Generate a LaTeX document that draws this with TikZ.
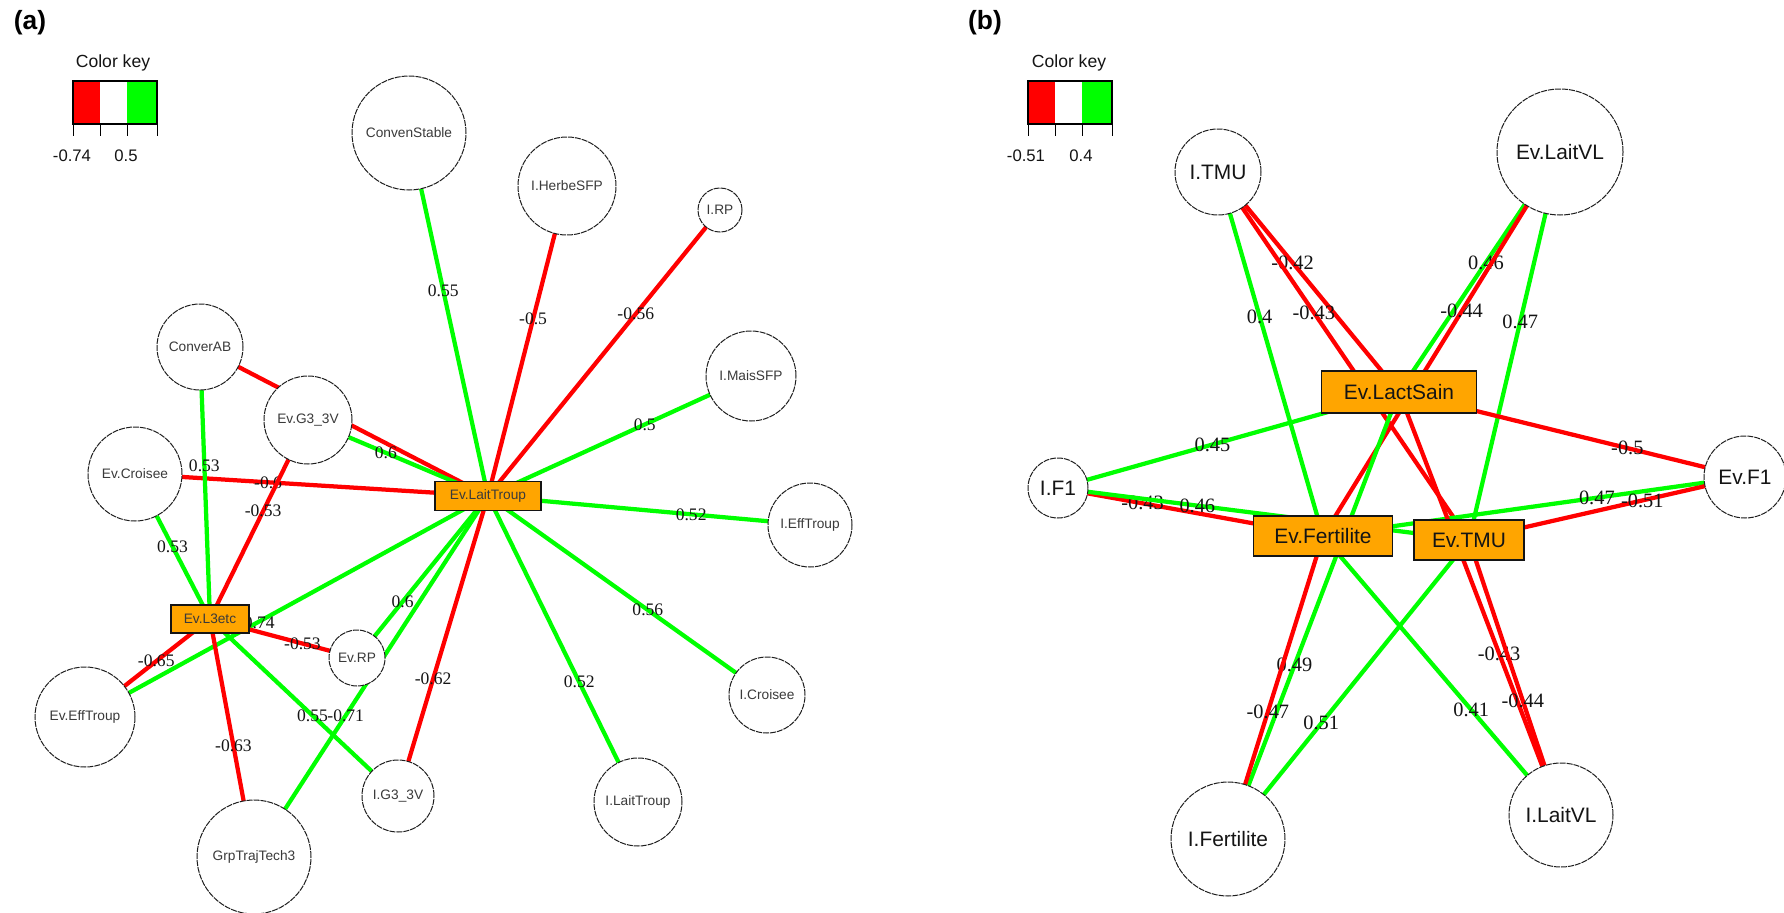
\documentclass[tikz,border=0pt]{standalone}
\usepackage{fontspec}
\setmainfont{Liberation Sans}
\newfontfamily\numfont{Liberation Serif}
\usepackage{xcolor}
\usepackage{tikz}
\usetikzlibrary{backgrounds}
\definecolor{ink}{HTML}{141414}
\definecolor{ink2}{HTML}{3A3A3A}
\definecolor{crim}{HTML}{1E1E1E}
\definecolor{cneg}{HTML}{FF0000}
\definecolor{cpos}{HTML}{00FF00}
\definecolor{cbox}{HTML}{FFA500}

\begin{document}
\begin{tikzpicture}[x=0.2mm, y=-0.2mm,
      vtx/.style={circle, draw=crim, line width=0.2mm, dash pattern=on 1.2mm off 0.2mm,
                  fill=white, inner sep=0pt, minimum size=#1*0.4mm},
      fbox/.style={draw=ink, line width=0.3mm, fill=cbox, inner sep=0pt},
      lbla/.style={font=\fontsize{7.8}{9}\selectfont, text=ink2},
      lblb/.style={font=\fontsize{11.9}{14}\selectfont, text=ink},
      wta/.style={font=\numfont\fontsize{10}{12}\selectfont, text=ink, inner sep=0pt},
      wtb/.style={font=\numfont\fontsize{11.6}{14}\selectfont, text=ink, inner sep=0pt},
      posedge/.style={draw=cpos, line width=0.85mm},
      negedge/.style={draw=cneg, line width=0.85mm},
      keyttl/.style={font=\fontsize{10}{12}\selectfont, text=ink},
      keylbl/.style={font=\fontsize{9.5}{11}\selectfont, text=ink},
      tag/.style={font=\bfseries\fontsize{15}{18}\selectfont, text=black}]
    \useasboundingbox (0,0) rectangle (1784,913);

    % panel (a)
    \node[tag] (taga) at (30,23) {(a)};
    \node[keyttl] (keya) at (113,63) {Color key};
    \fill[cneg] (73,81) rectangle (100,124);
    \fill[cpos] (127,81) rectangle (157,124);
    \draw[line width=0.3mm] (73,81) rectangle (157,124);
    \foreach \x in {73,100,127,157} \draw[line width=0.2mm] (\x,124) -- (\x,136);
    \node[keylbl] (kamin) at (72,156) {-0.74};
    \node[keylbl] (kamax) at (126,156) {0.5};

    \node[vtx=57, lbla] (cs) at (409,133) {ConvenStable};
    \node[vtx=49, lbla] (hs) at (567,186) {I.HerbeSFP};
    \node[vtx=22, lbla] (rp) at (720,210) {I.RP};
    \node[vtx=45, lbla] (ms) at (751,376) {I.MaisSFP};
    \node[vtx=43, lbla] (ca) at (200,347) {ConverAB};
    \node[vtx=44, lbla] (g3) at (308,420) {Ev.G3\_3V};
    \node[vtx=47, lbla] (ec) at (135,474) {Ev.Croisee};
    \node[fbox, lbla, minimum width=106*0.2mm, minimum height=29*0.2mm] (lt) at (488,496) {Ev.LaitTroup};
    \node[vtx=42, lbla] (ie) at (810,525) {I.EffTroup};
    \node[fbox, lbla, minimum width=78*0.2mm, minimum height=28*0.2mm] (l3) at (210,619) {Ev.L3etc};
    \node[vtx=28, lbla] (erp) at (357,658) {Ev.RP};
    \node[vtx=50, lbla] (ee) at (85,717) {Ev.EffTroup};
    \node[vtx=38, lbla] (ic) at (767,695) {I.Croisee};
    \node[vtx=36, lbla] (ig) at (398,796) {I.G3\_3V};
    \node[vtx=44, lbla] (il) at (638,802) {I.LaitTroup};
    \node[vtx=57, lbla] (gt) at (254,857) {GrpTrajTech3};

    % panel (b)
    \node[tag] (tagb) at (985,23) {(b)};
    \node[keyttl] (keyb) at (1069,63) {Color key};
    \fill[cneg] (1028,81) rectangle (1055,124);
    \fill[cpos] (1082,81) rectangle (1112,124);
    \draw[line width=0.3mm] (1028,81) rectangle (1112,124);
    \foreach \x in {1028,1055,1082,1112} \draw[line width=0.2mm] (\x,124) -- (\x,136);
    \node[keylbl] (kbmin) at (1026,156) {-0.51};
    \node[keylbl] (kbmax) at (1081,156) {0.4};

    \node[vtx=43, lblb] (itmu) at (1218,172) {I.TMU};
    \node[vtx=63, lblb] (elvl) at (1560,152) {Ev.LaitVL};
    \node[fbox, lblb, minimum width=155*0.2mm, minimum height=42*0.2mm] (els) at (1399,392) {Ev.LactSain};
    \node[vtx=30, lblb] (if1) at (1058,488) {I.F1};
    \node[vtx=41, lblb] (ef1) at (1745,477) {Ev.F1};
    \node[fbox, lblb, minimum width=139*0.2mm, minimum height=40*0.2mm] (efe) at (1323,536) {Ev.Fertilite};
    \node[fbox, lblb, minimum width=110*0.2mm, minimum height=40*0.2mm] (etmu) at (1469,540) {Ev.TMU};
    \node[vtx=57, lblb] (ife) at (1228,839) {I.Fertilite};
    \node[vtx=52, lblb] (ilvl) at (1561,815) {I.LaitVL};

    \begin{scope}[on background layer]
    \fill[white] (0,0) rectangle (1784,913);
    \draw[posedge] (cs.center) -- node[wta, pos=.434] {0.55} (lt.center);
    \draw[negedge] (hs.center) -- node[wta, pos=.429] {-0.5} (lt.center);
    \draw[negedge] (rp.center) -- node[wta, pos=.363] {-0.56} (lt.center);
    \draw[posedge] (ms.center) -- node[wta, pos=.404] {0.5} (lt.center);
    \draw[posedge] (lt.center) -- node[wta, pos=.631] {0.52} (ie.center);
    \draw[posedge] (lt.center) -- node[wta, pos=.573] {0.56} (ic.center);
    \draw[posedge] (lt.center) -- node[wta, pos=.608] {0.52} (il.center);
    \draw[negedge] (lt.center) -- node[wta, pos=.61] {-0.62} (ig.center);
    \draw[posedge] (lt.center) -- node[wta, pos=.652] {0.6} (erp.center);
    \draw[posedge] (gt.center) -- node[wta, pos=.392] {-0.71} (lt.center);
    \draw[negedge] (ca.center) -- (lt.center);
    \draw[posedge] (g3.center) -- node[wta, pos=.433] {0.6} (lt.center);
    \draw[negedge] (ec.center) -- node[wta, pos=.377] {-0.6} (lt.center);
    \draw[posedge] (ee.center) -- node[wta, pos=.425] {-0.74} (lt.center);
    \draw[posedge] (ca.center) -- node[wta, pos=.437] {0.53} (l3.center);
    \draw[posedge] (ec.center) -- node[wta, pos=.501] {0.53} (l3.center);
    \draw[negedge] (g3.center) -- node[wta, pos=.458] {-0.53} (l3.center);
    \draw[negedge] (ee.center) -- node[wta, pos=.57] {-0.65} (l3.center);
    \draw[negedge] (l3.center) -- node[wta, pos=.629] {-0.53} (erp.center);
    \draw[negedge] (l3.center) -- node[wta, pos=.533] {-0.63} (gt.center);
    \draw[posedge] (l3.center) -- node[wta, pos=.545] {0.55} (ig.center);

    \draw[negedge] (itmu.center) -- node[wtb, pos=.412] {-0.42} (els.center);
    \draw[negedge] (itmu.center) -- node[wtb, pos=.382] {-0.43} (etmu.center);
    \draw[posedge] (itmu.center) -- node[wtb, pos=.397] {0.4} (efe.center);
    \draw[posedge] (elvl.center) -- node[wtb, pos=.46] {0.46} (els.center);
    \draw[negedge] (elvl.center) -- node[wtb, pos=.415] {-0.44} (efe.center);
    \draw[posedge] (elvl.center) -- node[wtb, pos=.437] {0.47} (etmu.center);
    \draw[posedge] (if1.center) -- node[wtb, pos=.453] {0.45} (els.center);
    \draw[negedge] (if1.center) -- node[wtb, pos=.319] {-0.43} (efe.center);
    \draw[posedge] (if1.center) -- node[wtb, pos=.339] {0.46} (etmu.center);
    \draw[negedge] (els.center) -- node[wtb, pos=.66] {-0.5} (ef1.center);
    \draw[posedge] (efe.center) -- node[wtb, pos=.649] {0.47} (ef1.center);
    \draw[negedge] (etmu.center) -- node[wtb, pos=.628] {-0.51} (ef1.center);
    \draw[posedge] (ife.center) -- node[wtb, pos=.389] {0.49} (els.center);
    \draw[negedge] (ife.center) -- node[wtb, pos=.42] {-0.47} (efe.center);
    \draw[posedge] (ife.center) -- node[wtb, pos=.387] {0.51} (etmu.center);
    \draw[posedge] (efe.center) -- node[wtb, pos=.623] {0.41} (ilvl.center);
    \draw[negedge] (els.center) -- node[wtb, pos=.618] {-0.43} (ilvl.center);
    \draw[negedge] (etmu.center) -- node[wtb, pos=.585] {-0.44} (ilvl.center);
    \end{scope}
  \end{tikzpicture}
\end{document}
